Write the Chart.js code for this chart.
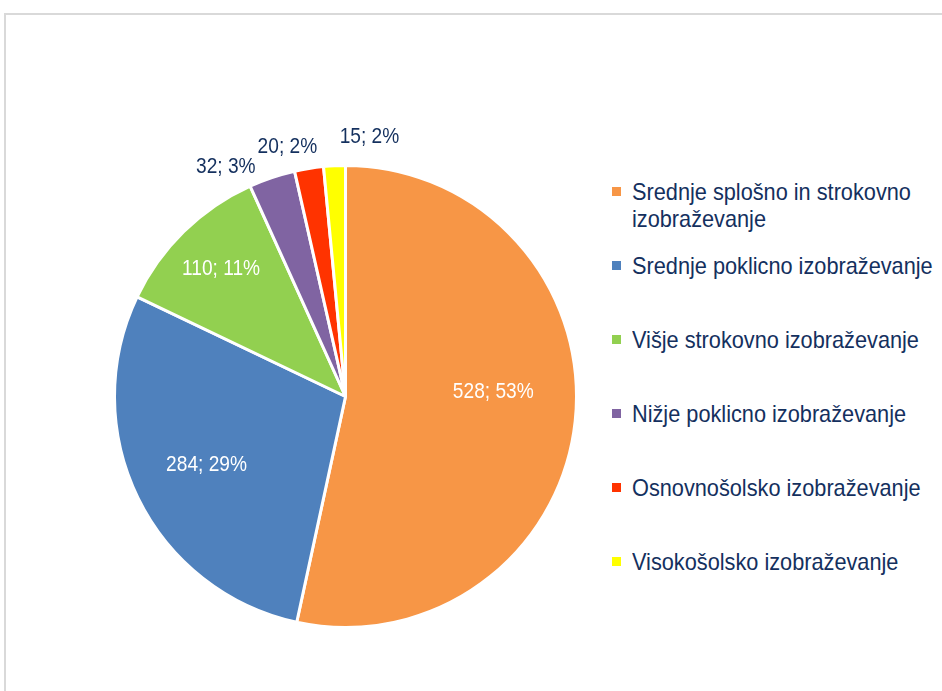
<!DOCTYPE html>
<html>
<head>
<meta charset="utf-8">
<script src="https://cdn.jsdelivr.net/npm/chart.js@4/dist/chart.umd.min.js"></script>
<style>
  html, body { margin: 0; padding: 0; background: #fff; }
  body { width: 942px; height: 691px; position: relative; overflow: hidden; }
  .frame {
    position: absolute; left: 4px; top: 13px; width: 960px; height: 700px;
    border: 2px solid #d9d9d9; box-sizing: border-box;
  }
  #wrap { position: absolute; left: 0; top: 0; width: 600px; height: 691px; }
  #legenda {
    position: absolute; left: 612px; top: 178px; width: 330px;
    font-family: "Liberation Sans", Arial, sans-serif;
    font-size: 24px; color: #14305e;
  }
  .item { position: relative; height: 74px; line-height: 27px; white-space: nowrap; }
  .item span.box {
    position: absolute; left: 0; top: 9px; width: 9px; height: 9px;
  }
  .item .txt { position: absolute; left: 20px; top: 0; transform: scaleX(0.905); transform-origin: left top; }
</style>
</head>
<body>
<div class="frame"></div>
<div id="wrap"><canvas id="pita"></canvas></div>
<div id="legenda"></div>

<script>
const kategorije = [
  ["Srednje splošno in strokovno", "izobraževanje"],
  "Srednje poklicno izobraževanje",
  "Višje strokovno izobraževanje",
  "Nižje poklicno izobraževanje",
  "Osnovnošolsko izobraževanje",
  "Visokošolsko izobraževanje",
];
const vrednosti = [528, 284, 110, 32, 20, 15];
const barve = ["#f79646", "#4f81bd", "#92d050", "#8064a2", "#ff3300", "#ffff00"];

const PISAVA = '"Liberation Sans", Arial, sans-serif';
const TEMNA = "#14305e";

// oznake: vrednost; delez — notranje bele, zunanje temne
const oznakePlugin = {
  id: "oznake",
  afterDatasetsDraw(chart, args, opts) {
    const ctx = chart.ctx;
    const meta = chart.getDatasetMeta(0);
    const data = chart.data.datasets[0].data;
    const total = data.reduce((a, b) => a + b, 0);
    ctx.save();
    ctx.font = `22px ${PISAVA}`;
    ctx.textAlign = "center";
    ctx.textBaseline = "middle";
    meta.data.forEach((arc, i) => {
      const { x, y, startAngle, endAngle, outerRadius } = arc.getProps(
        ["x", "y", "startAngle", "endAngle", "outerRadius"], true);
      const pct = Math.round((data[i] / total) * 100);
      const txt = `${data[i]}; ${pct}%`;
      const mid = (startAngle + endAngle) / 2 + ((opts.zamik[i] || 0) * Math.PI) / 180;
      const dist = outerRadius * opts.razdalja[i];
      ctx.fillStyle = pct >= 5 ? "#ffffff" : TEMNA;
      ctx.save();
      ctx.translate(x + Math.cos(mid) * dist, y + Math.sin(mid) * dist);
      ctx.scale(0.87, 1);
      ctx.fillText(txt, 0, 0);
      ctx.restore();
    });
    ctx.restore();
  },
};

const graf = new Chart(document.getElementById("pita"), {
  type: "pie",
  data: {
    labels: kategorije,
    datasets: [{
      data: vrednosti,
      backgroundColor: barve,
      borderColor: "#ffffff",
      borderWidth: 3,
    }],
  },
  options: {
    responsive: true,
    maintainAspectRatio: false,
    animation: false,
    layout: { padding: { left: 113, right: 22, top: 164, bottom: 62 } },
    plugins: {
      legend: { display: false },
      tooltip: { enabled: false },
      oznake: {
        razdalja: [0.64, 0.67, 0.77, 1.12, 1.11, 1.13],
        zamik: [-7.7, 0, 0, -9, -4, 8],
      },
    },
  },
  plugins: [oznakePlugin],
});

// legenda kot HTML, iz podatkov grafa
const legenda = document.getElementById("legenda");
graf.data.labels.forEach((lab, i) => {
  const el = document.createElement("div");
  el.className = "item";
  const box = document.createElement("span");
  box.className = "box";
  box.style.background = barve[i];
  el.appendChild(box);
  const t = document.createElement("div");
  t.className = "txt";
  t.innerHTML = (Array.isArray(lab) ? lab : [lab]).join("<br>");
  el.appendChild(t);
  legenda.appendChild(el);
});
</script>
</body>
</html>
